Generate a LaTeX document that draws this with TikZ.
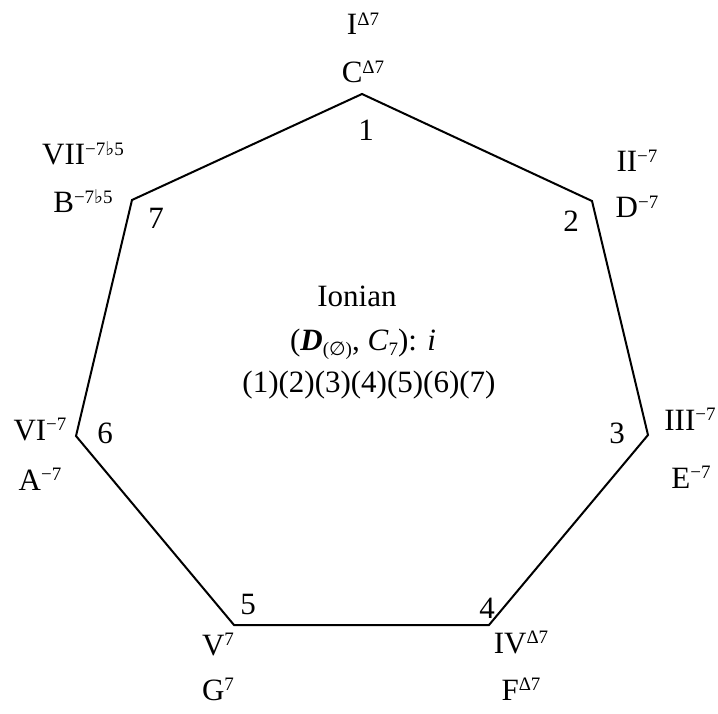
\documentclass[tikz,border=0pt]{standalone}
\usepackage{fontspec}
\setmainfont{Liberation Serif}
\newfontfamily\symfont{DejaVu Sans}
\usetikzlibrary{positioning}
\newcommand{\chsup}[1]{\raisebox{0.3em}{\fontsize{19}{19}\selectfont #1}}
\newcommand{\chsub}[1]{\raisebox{-0.18em}{\fontsize{19}{19}\selectfont #1}}
\newcommand{\halfdim}{\chsup{−7{\symfont ♭}5}}
\tikzset{
    chord/.style={font=\fontsize{31}{36}\selectfont, inner sep=0pt, anchor=base},
    degree/.style={font=\fontsize{31}{36}\selectfont, inner sep=0pt, anchor=base},
    modetext/.style={font=\fontsize{31}{36}\selectfont, inner sep=0pt, anchor=base},
    heptagon/.style={draw, line width=2pt, line join=miter}
}

\begin{document}
\begin{tikzpicture}[x=1pt, y=-1pt]
\useasboundingbox (0,0) rectangle (718,714);
% corners of the heptagon
\coordinate (v1) at (362,94);
\coordinate (v2) at (592,201);
\coordinate (v3) at (648,435);
\coordinate (v4) at (489,625);
\coordinate (v5) at (234,625);
\coordinate (v6) at (76,436);
\coordinate (v7) at (132,200);
\draw[heptagon] (v1) -- (v2) -- (v3) -- (v4) -- (v5) -- (v6) -- (v7) -- cycle;
% step numbers
\node[degree] (n1) at (366,141) {1};
\node[degree] (n2) at (571,232) {2};
\node[degree] (n3) at (617,443) {3};
\node[degree] (n4) at (487,618) {4};
\node[degree] (n5) at (248,614) {5};
\node[degree] (n6) at (105,443) {6};
\node[degree] (n7) at (156,229) {7};
% roman numerals and chords
\node[chord] (r1) at (363,35) {I\chsup{Δ7}};
\node[chord] (c1) at (363,83) {C\chsup{Δ7}};
\node[chord] (r2) at (637,172) {II\chsup{−7}};
\node[chord] (c2) at (637,218) {D\chsup{−7}};
\node[chord] (r3) at (690,430) {III\chsup{−7}};
\node[chord] (c3) at (691,488) {E\chsup{−7}};
\node[chord] (r4) at (521,653) {IV\chsup{Δ7}};
\node[chord] (c4) at (521,700) {F\chsup{Δ7}};
\node[chord] (r5) at (218,655) {V\chsup{7}};
\node[chord] (c5) at (218,700) {G\chsup{7}};
\node[chord] (r6) at (40,440) {VI\chsup{−7}};
\node[chord] (c6) at (40,490) {A\chsup{−7}};
\node[chord] (r7) at (83,165) {VII\halfdim};
\node[chord] (c7) at (83,213) {B\halfdim};
% mode name in the middle
\node[modetext] (mode) at (357,307) {Ionian};
\node[modetext] (group) at (363,350) {(\textbf{\textit{D}}\chsub{({\symfont ∅})}, \textit{C}\chsub{7}): \textit{i}};
\node[modetext] (cycles) at (369,392) {(1)(2)(3)(4)(5)(6)(7)};
\end{tikzpicture}
\end{document}
